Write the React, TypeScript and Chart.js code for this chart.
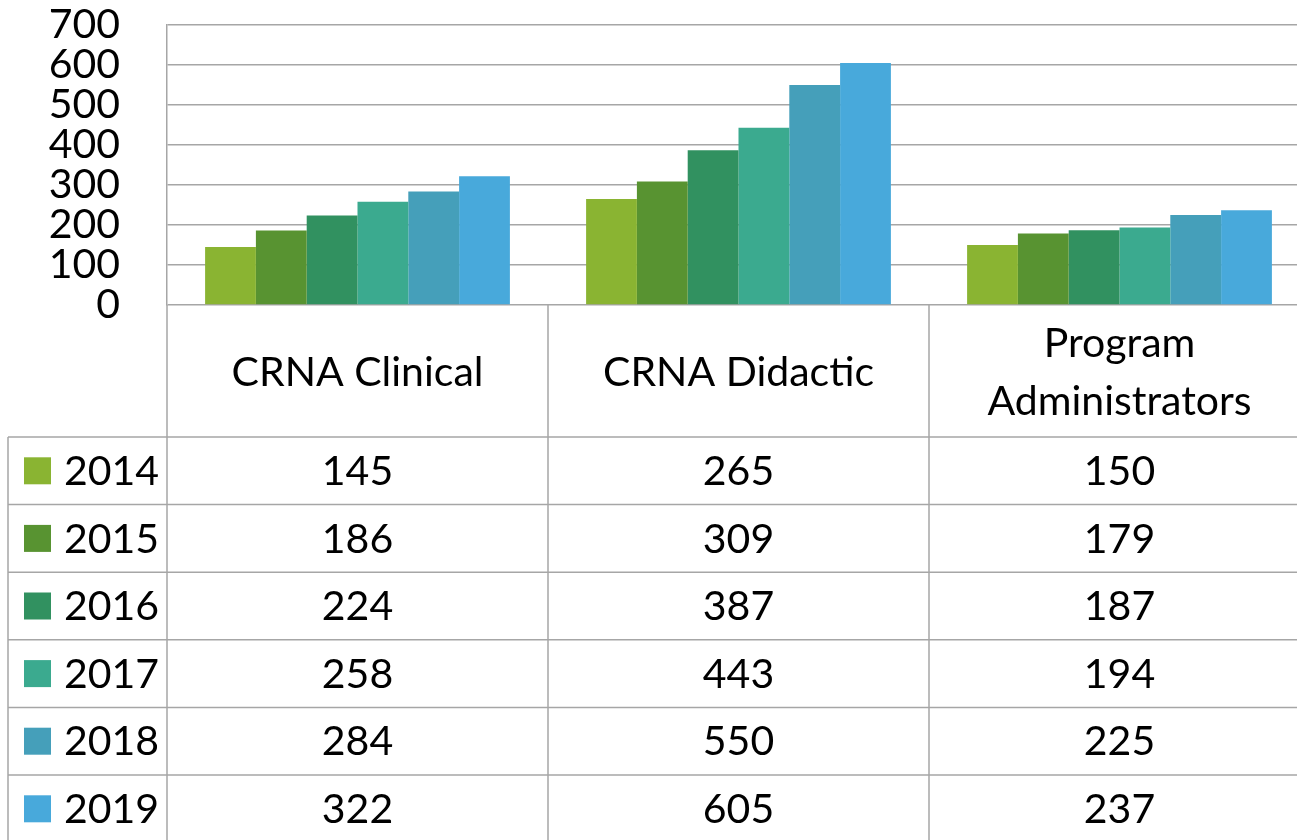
import React, { useEffect, useRef } from "react";
import { Chart, registerables } from "chart.js";

Chart.register(...registerables);

const categories = ["CRNA Clinical", "CRNA Didactic", "Program Administrators"];
const years = ["2014", "2015", "2016", "2017", "2018", "2019"];
const values2014 = [145, 265, 150];
const values2015 = [186, 309, 179];
const values2016 = [224, 387, 187];
const values2017 = [258, 443, 194];
const values2018 = [284, 550, 225];
const values2019 = [322, 605, 237];
const seriesValues = [values2014, values2015, values2016, values2017, values2018, values2019];
const colors = ["#8AB432", "#589331", "#319160", "#3BAA8F", "#459FBA", "#48A9DB"];

const FONT = "Lato, 'Open Sans', sans-serif";
const FS = 41;
const LINE = "#a6a6a6";

const tablePlugin = {
  id: "dataTable",
  afterDraw(chart: any) {
    const ctx = chart.ctx;
    const xs = chart.scales.x;
    const area = chart.chartArea;
    const n = categories.length;
    const colW = (xs.right - xs.left) / n;
    const top = area.bottom;
    const headerH = 132;
    const rowH = 67.6;
    const bottom = chart.height;
    const leftEdge = 8;
    ctx.save();
    ctx.strokeStyle = LINE;
    ctx.lineWidth = 1.5;
    for (let i = 0; i <= n; i++) {
      const x = xs.left + i * colW;
      ctx.beginPath();
      ctx.moveTo(x, top);
      ctx.lineTo(x, bottom);
      ctx.stroke();
    }
    ctx.beginPath();
    ctx.moveTo(leftEdge, top + headerH);
    ctx.lineTo(leftEdge, bottom);
    ctx.stroke();
    for (let r = 0; r < years.length; r++) {
      const y = top + headerH + r * rowH;
      ctx.beginPath();
      ctx.moveTo(leftEdge, y);
      ctx.lineTo(chart.width, y);
      ctx.stroke();
    }
    ctx.fillStyle = "#000";
    ctx.font = `${FS}px ${FONT}`;
    ctx.textAlign = "center";
    ctx.textBaseline = "middle";
    categories.forEach((cat, i) => {
      const cx = xs.left + (i + 0.5) * colW;
      const words = cat.split(" ");
      const lines: string[] = [];
      let cur = "";
      words.forEach((w) => {
        const test = cur ? cur + " " + w : w;
        if (ctx.measureText(test).width > colW - 20 && cur) {
          lines.push(cur);
          cur = w;
        } else cur = test;
      });
      if (cur) lines.push(cur);
      const lh = 58;
      const cy = top + headerH / 2 + 2;
      lines.forEach((ln, k) => {
        ctx.fillText(ln, cx, cy + (k - (lines.length - 1) / 2) * lh);
      });
    });
    years.forEach((yr, r) => {
      const cy = top + headerH + (r + 0.5) * rowH;
      ctx.fillStyle = colors[r];
      ctx.fillRect(24, cy - 13.5, 27, 27);
      ctx.fillStyle = "#000";
      ctx.textAlign = "left";
      ctx.fillText(yr, 64, cy + 1);
      ctx.textAlign = "center";
      seriesValues[r].forEach((v, i) => {
        const cx = xs.left + (i + 0.5) * colW;
        ctx.fillText(String(v), cx, cy + 1);
      });
    });
    ctx.restore();
  },
};

export default function App() {
  const ref = useRef<HTMLCanvasElement>(null);
  useEffect(() => {
    if (!ref.current) return;
    const chart = new Chart(ref.current, {
      type: "bar",
      data: {
        labels: categories,
        datasets: years.map((y, i) => ({
          label: y,
          data: seriesValues[i],
          backgroundColor: colors[i],
          borderWidth: 0,
          categoryPercentage: 0.8,
          barPercentage: 1.0,
        })),
      },
      options: {
        responsive: false,
        animation: false,
        devicePixelRatio: 1,
        layout: { padding: { top: 25, left: 0, right: 0, bottom: 535 } },
        plugins: { legend: { display: false }, tooltip: { enabled: false } },
        scales: {
          x: { display: false },
          y: {
            min: 0,
            max: 700,
            afterFit(scale: any) {
              scale.width = 167;
              scale.paddingTop = 0;
              scale.paddingBottom = 0;
            },
            ticks: {
              stepSize: 100,
              autoSkip: false,
              color: "#000",
              padding: 47,
              font: { family: FONT, size: FS, lineHeight: 1 },
            },
            grid: { color: LINE, lineWidth: 1.5, drawTicks: false },
            border: { display: true, color: LINE, width: 1.5 },
          },
        },
      },
      plugins: [tablePlugin],
    });
    return () => chart.destroy();
  }, []);
  return (
    <div
      style={{
        position: "fixed",
        left: 0,
        top: 0,
        width: 1297,
        height: 840,
        overflow: "hidden",
        background: "#fff",
      }}
    >
      <canvas ref={ref} width={1310} height={840} style={{ display: "block" }} />
    </div>
  );
}
